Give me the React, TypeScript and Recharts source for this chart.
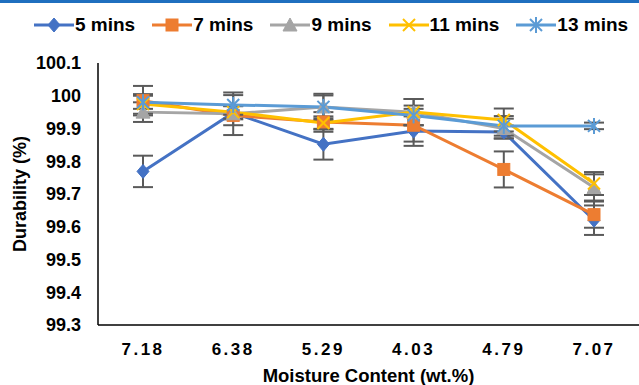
import React from "react";
import { LineChart, Line, XAxis, YAxis, ErrorBar, Label } from "recharts";

const categories = ["7.18", "6.38", "5.29", "4.03", "4.79", "7.07"];
const s5 = [99.769, 99.948, 99.852, 99.892, 99.889, 99.62];
const s7 = [99.985, 99.94, 99.92, 99.91, 99.775, 99.637];
const s9 = [99.95, 99.945, 99.966, 99.95, 99.9, 99.72];
const s11 = [99.975, 99.95, 99.917, 99.95, 99.926, 99.732];
const s13 = [99.98, 99.972, 99.966, 99.94, 99.908, 99.908];
const e5 = [0.048, 0.02, 0.047, 0.045, 0.02, 0.045];
const e7 = [0.045, 0.03, 0.03, 0.05, 0.055, 0.04];
const e9 = [0.03, 0.065, 0.04, 0.04, 0.03, 0.04];
const e11 = [0.03, 0.02, 0.02, 0.04, 0.035, 0.035];
const e13 = [0.02, 0.03, 0.035, 0.03, 0.03, 0.01];
const yTicks = [99.3, 99.4, 99.5, 99.6, 99.7, 99.8, 99.9, 100.0, 100.1];

const data = categories.map((c, i) => ({
  cat: c,
  s5: s5[i], s7: s7[i], s9: s9[i], s11: s11[i], s13: s13[i],
  e5: e5[i], e7: e7[i], e9: e9[i], e11: e11[i], e13: e13[i],
}));

const FONT = "'Liberation Sans', Arial, sans-serif";

type Shape = "diamond" | "square" | "triangle" | "x" | "star";

function Marker({ shape, color, cx, cy }: { shape: Shape; color: string; cx: number; cy: number }) {
  const r = 6;
  if (shape === "diamond")
    return <path d={`M${cx},${cy - r - 1} L${cx + r},${cy} L${cx},${cy + r + 1} L${cx - r},${cy} Z`} fill={color} stroke={color} strokeWidth={1} />;
  if (shape === "square")
    return <rect x={cx - 6} y={cy - 6} width={12} height={12} fill={color} stroke={color} strokeWidth={1} />;
  if (shape === "triangle")
    return <path d={`M${cx},${cy - 7} L${cx + 7},${cy + 6} L${cx - 7},${cy + 6} Z`} fill={color} stroke={color} strokeWidth={1} />;
  if (shape === "x")
    return (
      <g stroke={color} strokeWidth={2}>
        <line x1={cx - 6} y1={cy - 6} x2={cx + 6} y2={cy + 6} />
        <line x1={cx - 6} y1={cy + 6} x2={cx + 6} y2={cy - 6} />
      </g>
    );
  return (
    <g stroke={color} strokeWidth={2}>
      <line x1={cx - 6} y1={cy - 6} x2={cx + 6} y2={cy + 6} />
      <line x1={cx - 6} y1={cy + 6} x2={cx + 6} y2={cy - 6} />
      <line x1={cx} y1={cy - 8} x2={cx} y2={cy + 8} />
    </g>
  );
}

const series: { key: string; err: string; name: string; color: string; shape: Shape }[] = [
  { key: "s5", err: "e5", name: "5 mins", color: "#4472C4", shape: "diamond" },
  { key: "s7", err: "e7", name: "7 mins", color: "#ED7D31", shape: "square" },
  { key: "s9", err: "e9", name: "9 mins", color: "#A5A5A5", shape: "triangle" },
  { key: "s11", err: "e11", name: "11 mins", color: "#FFC000", shape: "x" },
  { key: "s13", err: "e13", name: "13 mins", color: "#5B9BD5", shape: "star" },
];

export default function App() {
  return (
    <div style={{ position: "absolute", left: 0, top: 0, width: 639, height: 385, background: "#fff", fontFamily: FONT }}>
      <div style={{ position: "absolute", left: 0, top: 0, width: 639, height: 3, background: "#1F6FBF" }} />
      <div style={{ position: "absolute", left: 34, top: 14, display: "flex", alignItems: "center", fontWeight: "bold", fontSize: 19, color: "#000" }}>
        {series.map((s, i) => (
          <div key={s.key} style={{ display: "flex", alignItems: "center", marginRight: i === 4 ? 0 : 17 }}>
            <svg width={40} height={20}>
              <line x1={0} y1={10} x2={40} y2={10} stroke={s.color} strokeWidth={3} />
              <Marker shape={s.shape} color={s.color} cx={20} cy={10} />
            </svg>
            <span style={{ marginLeft: 1 }}>{s.name}</span>
          </div>
        ))}
      </div>
      <LineChart width={639} height={385} data={data} margin={{ top: 63, right: 0, left: 0, bottom: 30 }}>
        <XAxis
          dataKey="cat"
          padding={{ left: 45, right: 45 }}
          tickLine={false}
          axisLine={{ stroke: "#000", strokeWidth: 1.5 }}
          tick={{ fill: "#000", fontSize: 17, fontWeight: "bold", fontFamily: FONT, letterSpacing: 2.5 }}
          tickMargin={12}
          height={30}
        >
          <Label value="Moisture Content (wt.%)" position="bottom" offset={14} style={{ fill: "#000", fontSize: 18.5, fontWeight: "bold", fontFamily: FONT }} />
        </XAxis>
        <YAxis
          width={98}
          domain={[99.3, 100.1]}
          ticks={yTicks}
          interval={0}
          tickFormatter={(v: number) => String(Number(v.toFixed(1)))}
          tickLine={false}
          axisLine={{ stroke: "#000", strokeWidth: 1.5 }}
          tick={{ fill: "#000", fontSize: 18, fontWeight: "bold", fontFamily: FONT }}
          tickMargin={11}
        >
          <Label value="Durability (%)" angle={-90} position="insideLeft" offset={20} style={{ fill: "#000", fontSize: 18, fontWeight: "bold", fontFamily: FONT, textAnchor: "middle" }} />
        </YAxis>
        {series.map((s) => (
          <Line
            key={s.key}
            dataKey={s.key}
            name={s.name}
            stroke={s.color}
            strokeWidth={3}
            isAnimationActive={false}
            dot={(p: any) => <Marker key={`${s.key}-${p.index}`} shape={s.shape} color={s.color} cx={p.cx} cy={p.cy} />}
            activeDot={false}
          >
            <ErrorBar dataKey={s.err} width={10} strokeWidth={2} stroke="#5A5A5A" direction="y" />
          </Line>
        ))}
      </LineChart>
    </div>
  );
}
